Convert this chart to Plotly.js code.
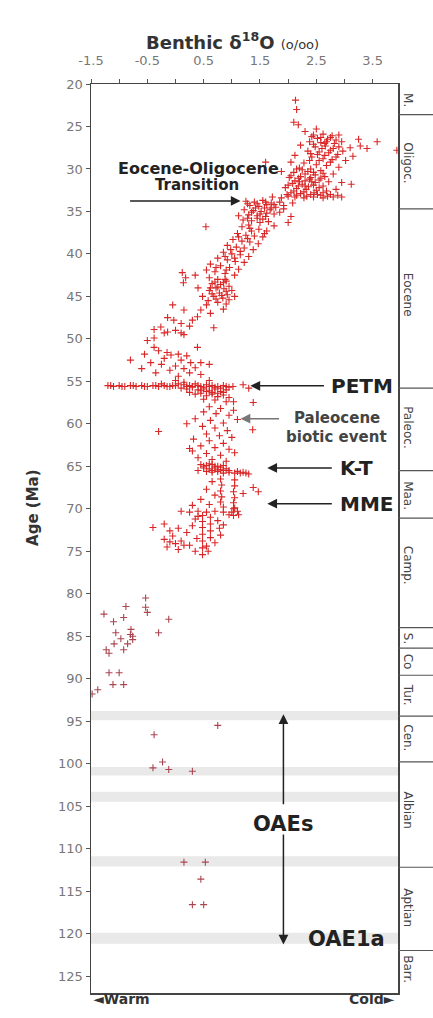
<!DOCTYPE html>
<html><head><meta charset="utf-8">
<script src="https://cdn.plot.ly/plotly-3.0.1.min.js"></script>
<style>html,body{margin:0;padding:0;background:#fff;} #chart{width:433px;height:1018px;}</style>
</head><body><div id="chart"></div>
<script>
// [benthic d18O (per mil), age (Ma)]
const oligocene = [[2.13,21.9],[2.15,23.0],[2.10,24.5],[2.18,24.8],[2.30,25.6],[2.50,25.3],
[2.45,26.0],[2.62,25.9],[2.78,26.1],[2.90,26.0],[2.52,26.4],[2.70,26.5],[2.85,26.6],[2.38,26.8],[2.58,26.9],[2.95,26.8],[3.58,26.8],[3.28,27.3],[3.10,27.5],[3.25,26.5],
[2.22,27.2],[2.48,27.4],[2.66,27.3],[2.80,27.6],[2.97,27.9],[3.40,27.6],[3.93,27.8],[2.35,27.9],[2.55,28.0],[2.72,28.1],[2.88,28.3],[3.15,28.5],[2.12,28.4],[2.42,28.6],[2.62,28.8],[2.78,28.9],[3.02,29.0],
[2.05,29.2],[2.28,29.3],[2.50,29.5],[2.68,29.6],[2.90,29.8],[2.20,29.9],[2.40,30.0],[2.58,30.2],[1.88,30.3],[2.10,30.4],[2.30,30.6],[2.48,30.7],[2.65,30.9],[2.80,30.6],
[2.02,31.0],[2.18,31.1],[2.38,31.2],[2.55,31.3],[2.72,31.5],[2.95,31.6],[3.12,31.8],[2.08,31.7],[2.25,31.8],[2.45,31.9],[2.62,32.0],[1.95,32.2],[2.15,32.3],[2.32,32.4],[2.50,32.5],[2.68,32.6],[2.85,32.4],
[2.05,32.8],[2.22,32.9],[2.40,33.0],[2.58,33.1],[2.75,33.0],[1.72,33.3],[1.88,33.4],[2.00,33.2],[2.12,33.3],[2.28,33.4],[2.45,33.3],[2.62,33.4],[2.80,33.3],[2.95,33.3],
[2.20,31.5],[2.35,30.3],[2.52,28.3],[2.65,27.0],[2.75,29.2],[2.30,32.0],[2.42,31.5],[2.15,30.0],[1.60,29.2],
[2.05,30.8],[2.22,30.9],[2.40,31.0],[2.58,31.1],[2.12,31.4],[2.30,31.4],[2.48,31.6],[2.00,31.9],[2.18,32.0],[2.36,32.1],[2.55,32.2],[2.10,32.6],[2.28,32.7],[2.46,32.8],[2.62,32.8],
[1.98,33.0],[2.15,33.1],[2.33,33.2],[2.52,33.0],[2.70,33.2],[2.88,33.1],[2.25,30.1],[2.45,30.4],[2.62,30.5],
[2.42,26.2],[2.58,26.3],[2.75,26.3],[2.68,26.8],[2.82,27.0],[2.45,27.1],[2.60,27.6],[2.75,27.8],[2.90,27.4],[2.40,28.2],[2.65,28.4],[2.85,28.6],[2.55,29.0],[2.38,29.0]];

const eocene = [[1.25,33.8],[1.40,33.9],[1.55,33.7],[1.70,34.0],[1.85,33.9],[1.32,34.3],[1.48,34.4],[1.62,34.2],[1.78,34.5],[1.92,34.3],[1.22,34.8],[1.38,34.9],[1.52,35.0],[1.68,34.8],[1.85,35.1],
[1.30,35.4],[1.45,35.5],[1.60,35.6],[1.75,35.3],[2.05,35.6],[1.20,36.0],[1.35,36.1],[1.50,36.3],[1.65,36.2],[2.00,36.3],[0.54,36.8],[1.18,36.8],[1.32,37.0],[1.48,37.1],[1.62,37.3],
[1.10,37.6],[1.25,37.8],[1.40,37.9],[1.55,38.0],[1.02,38.3],[1.18,38.5],[1.32,38.6],[1.47,38.8],[0.92,39.0],[1.08,39.2],[1.22,39.3],[1.38,39.5],[0.85,39.8],[1.00,40.0],[1.15,40.1],[1.30,40.3],
[0.75,40.5],[0.92,40.7],[1.06,40.9],[1.22,41.0],[0.62,41.2],[0.80,41.4],[0.96,41.6],[1.12,41.8],[0.55,41.9],[0.70,42.1],[0.88,42.3],[1.05,42.5],[0.12,42.2],[0.18,42.8],[0.14,43.4],
[0.60,42.8],[0.75,43.0],[0.90,43.2],[0.65,43.5],[0.80,43.6],[0.95,43.8],[0.72,44.0],[0.86,44.1],[1.00,44.3],[0.60,44.3],[0.78,44.6],[0.92,44.8],[0.68,45.0],[0.84,45.2],[1.05,45.0],
[0.58,45.5],[0.75,45.7],[0.90,45.9],[0.48,45.0],[0.40,44.0],[0.35,42.5],[-0.05,46.0],[0.15,46.6],[0.45,46.6],[0.62,47.0],[0.68,48.7],[0.39,47.4],[-0.03,47.8],[-0.14,47.5],[0.30,47.8],
[0.10,48.2],[-0.26,48.6],[-0.38,48.9],[-0.38,49.9],[0.15,49.5],[-0.20,49.3],[0.00,49.0],[-0.50,50.2],[0.25,48.5],[0.55,46.0],[0.85,46.5],[1.30,36.6],[1.75,36.7],[1.45,35.8],
[1.28,34.1],[1.45,34.1],[1.60,33.9],[1.75,34.2],[1.58,34.6],[1.42,34.6],[1.70,34.6],[1.35,35.1],[1.62,35.2],[1.50,35.3],[1.92,34.7],[2.08,34.0],[1.12,35.5],[1.28,35.8],[1.55,35.9],
[0.70,43.3],[0.85,43.4],[0.75,43.9],[0.90,44.4],[0.65,44.7],[0.82,44.9],[0.72,45.3],[0.95,45.4],[0.88,43.0],[0.62,44.0],
[1.12,38.0],[1.28,38.2],[0.98,39.5],[1.15,39.7],[0.88,40.3],[1.05,40.5],[0.72,41.6],[0.90,41.9],[1.35,37.3],[1.58,37.6]];

const earlyEocenePetm = [[-0.14,49.2],[0.10,49.3],[-0.38,51.0],[-0.08,51.9],[0.10,52.5],[0.27,52.8],[0.45,52.8],[-0.80,52.5],[-0.44,52.8],[-0.25,53.0],[0.00,53.2],[0.39,51.0],[-0.30,51.4],
[-0.15,51.6],[0.05,51.8],[0.20,52.0],[-0.20,52.3],[0.35,53.4],[0.15,53.5],[-0.10,53.7],[0.25,54.0],[0.45,54.2],[-0.35,54.0],[0.05,54.4],[0.60,53.0],[-0.55,51.8],[-0.60,53.5],
[-1.20,55.5],[-1.10,55.6],[-1.00,55.5],[-0.90,55.6],[-0.80,55.5],[-0.70,55.6],[-0.60,55.5],[-0.50,55.6],[-0.40,55.5],[-0.30,55.6],[-0.20,55.5],[-0.10,55.6],[0.00,55.5],
[0.05,55.3],[0.15,55.4],[0.25,55.5],[0.35,55.3],[0.45,55.6],[0.55,55.4],[0.65,55.5],[0.75,55.6],[0.85,55.5],[0.95,55.7],[1.02,55.6],[0.10,55.8],[0.20,55.9],[0.30,55.7],[0.40,56.0],
[0.50,55.9],[0.60,56.1],[0.70,55.9],[0.80,56.2],[0.90,56.0],[0.25,56.3],[0.35,56.5],[0.45,56.4],[0.55,56.7],[0.65,56.5],[0.75,56.8],[0.85,56.6],[0.95,56.9],[0.50,57.1],[0.70,57.2],
[0.90,57.4],[1.03,57.4],[1.38,57.5],[1.03,58.4],[1.20,55.4],[1.30,55.8],[0.15,55.1],[0.00,54.9],[-0.25,55.3],[0.60,54.9],
[0.30,55.6],[0.40,55.5],[0.50,55.7],[0.60,55.6],[0.70,55.7],[0.80,55.8],[0.90,55.6],[0.20,55.6],[0.55,56.2],[0.65,56.3],[0.75,56.4],[0.45,56.1],[0.85,56.3],[-0.05,55.5],[-0.15,55.6],
[-0.35,55.5],[-0.55,55.6],[-0.75,55.5],[-0.95,55.6],[-1.15,55.5]];

const paleocene = [[0.60,58.0],[0.80,58.2],[0.50,58.6],[0.72,58.8],[0.95,59.0],[0.35,59.4],[0.62,59.6],[0.85,59.9],[1.10,59.5],[-0.30,60.9],[1.37,60.7],[0.48,60.3],[0.70,60.5],[0.92,60.8],
[0.55,61.2],[0.78,61.4],[1.00,61.6],[0.32,61.8],[0.60,62.0],[0.85,62.3],[0.45,62.6],[0.70,62.8],[0.95,63.0],[0.30,63.2],[0.55,63.5],[0.80,63.7],[1.05,63.4],[0.40,64.0],[0.65,64.2],
[0.90,64.4],[0.25,62.9],[0.20,60.0]];

const maastrichtian = [[0.45,64.8],[0.55,64.9],[0.65,64.8],[0.75,65.0],[0.85,64.9],[0.50,65.2],[0.60,65.3],[0.70,65.2],[0.80,65.4],[0.90,65.3],[0.55,65.6],[0.65,65.7],[0.75,65.6],[0.85,65.8],
[0.95,65.7],[1.05,65.8],[1.15,65.8],[1.25,65.8],[1.30,65.9],[0.40,65.5],[0.60,64.7],[0.70,65.0],[0.80,65.1],[0.65,65.5],[0.75,65.4],[0.85,65.5],[0.95,65.5],[0.50,65.0],[1.10,65.6],[1.20,65.7],
[0.80,66.5],[1.05,66.6],[0.65,66.8],[0.82,67.2],[1.05,67.3],[1.38,67.5],[1.47,68.0],[0.55,67.7],[0.80,67.9],[1.03,68.0],[0.70,68.4],[0.82,68.6],[1.05,68.7],[1.20,68.2],[0.45,68.9],
[0.80,69.2],[1.03,69.3],[0.60,69.5],[0.85,69.8],[1.05,69.9],[0.30,69.6],
[0.10,70.3],[0.25,70.4],[0.40,70.3],[0.55,70.4],[0.70,70.3],[0.85,70.4],[1.00,70.4],[1.10,70.3],[1.03,70.0],[1.03,70.8],[0.95,70.7],[1.12,70.7]];

const campanian = [[0.48,70.8],[0.48,71.5],[0.48,72.2],[0.48,73.0],[0.48,73.8],[0.48,74.6],[0.48,75.4],[0.62,71.0],[0.62,71.8],[0.62,72.6],[0.62,73.4],[0.70,74.0],[0.75,71.4],[0.78,72.3],
[0.80,73.1],[0.35,71.2],[0.30,72.0],[0.20,72.8],[0.38,73.5],[0.25,74.3],[0.35,75.0],[0.55,74.4],[0.58,75.0],[-0.40,72.2],[-0.20,71.8],[-0.10,72.6],[0.05,72.3],[-0.20,73.6],[-0.10,73.9],
[0.00,74.1],[0.10,73.8],[-0.15,74.5],[0.05,74.8],[-0.05,73.2],[0.15,74.3],[0.85,71.9],[0.40,70.9]];

const lateCretaceous = [[-1.27,82.4],[-0.88,81.5],[-0.92,82.8],[-0.53,81.6],[-0.53,80.5],[-0.50,82.2],[-0.12,83.0],[-1.10,83.3],[-0.79,84.2],[-1.06,84.6],[-0.97,85.3],[-0.76,85.4],
[-0.30,84.6],[-1.09,85.9],[-0.92,86.6],[-1.23,86.6],[-1.18,87.0],[-1.18,89.3],[-1.00,89.3],[-1.11,90.7],[-0.92,90.7],[-1.38,91.3],[-1.48,91.8],[-0.76,85.0],[-0.85,85.9],[-0.80,84.8]];

const midCretaceous = [[0.75,95.5],[-0.38,96.6],[-0.23,99.8],[-0.40,100.5],[-0.12,100.7],[0.30,100.9],[0.15,111.6],[0.53,111.6],[0.45,113.6],[0.30,116.6],[0.50,116.6]];

// stages column
const stageNames = ['M.','Oligoc.','Eocene','Paleoc.','Maa.','Camp.','S.','Co','Tur.','Cen.','Albian','Aptian','Barr.'];
const stageMidAges = [21.9,29.2,44.8,60.4,68.4,76.6,85.2,88.0,91.9,96.9,105.4,116.9,124.2];
const stageBoundaries = [23.6,34.7,55.8,65.5,71.1,84.0,86.4,89.6,94.4,99.8,112.2,122.0];

// OAE grey bands [top, bottom] (Ma)
const oaeBandTop = [93.8,100.4,103.3,110.9,119.9];
const oaeBandBottom = [94.9,101.4,104.5,112.1,121.2];

// ticks
const xTickVals = [-1.5,-1,-0.5,0,0.5,1,1.5,2,2.5,3,3.5];
const xTickText = ['-1.5','','-0.5','','0.5','','1.5','','2.5','','3.5'];
const yTickVals = [20,25,30,35,40,45,50,55,60,65,70,75,80,85,90,95,100,105,110,115,120,125];

const FONT = 'DejaVu Sans, Arial, sans-serif';
const cenozoic = [].concat(oligocene, eocene, earlyEocenePetm, paleocene, maastrichtian, campanian);
const cretaceous = [].concat(lateCretaceous, midCretaceous);

const traces = [
  {type:'scatter', mode:'markers', x: cenozoic.map(p=>p[0]), y: cenozoic.map(p=>p[1]),
   marker:{symbol:'cross-thin', size:5, line:{width:1.1, color:'rgb(218,38,38)'}, color:'rgb(218,38,38)'}, hoverinfo:'skip'},
  {type:'scatter', mode:'markers', x: cretaceous.map(p=>p[0]), y: cretaceous.map(p=>p[1]),
   marker:{symbol:'cross-thin', size:5, line:{width:1.1, color:'rgb(170,70,80)'}, color:'rgb(170,70,80)'}, hoverinfo:'skip'}
];

const shapes = [];
oaeBandTop.forEach((t,i)=>shapes.push({type:'rect', xref:'paper', yref:'y', x0:0, x1:1, y0:t, y1:oaeBandBottom[i], fillcolor:'#e9e9e9', line:{width:0}, layer:'below'}));
stageBoundaries.forEach(b=>shapes.push({type:'line', xref:'paper', yref:'y', x0:1, x1:1.15, y0:b, y1:b, line:{color:'#555', width:1.2}}));

const annotations = [];
stageNames.forEach((s,i)=>annotations.push({xref:'paper', yref:'y', x:1.062, y:stageMidAges[i], text:s, showarrow:false, textangle:90, font:{family:FONT, size:12, color:'#444'}}));

function arrow(x, y, ax, ay, color){
  return {xref:'x', yref:'y', x:x, y:y, ax:ax, ay:ay, text:' ', showarrow:true, arrowhead:2, arrowsize:1.3, arrowwidth:1.5, arrowcolor:color||'#222', standoff:0, startstandoff:0, font:{size:1}};
}
annotations.push(arrow(1.155, 33.76, -112, 0));
annotations.push(arrow(1.33, 55.53, 75, 0));
annotations.push(arrow(1.155, 59.4, 40, 0, '#777'));
annotations.push(arrow(1.63, 65.2, 66, 0));
annotations.push(arrow(1.63, 69.4, 66, 0));
annotations.push(arrow(1.916, 94.2, 0, 92));
annotations.push(arrow(1.916, 121.3, 0, -112));

function label(x, y, text, size, opts){
  return Object.assign({xref:'x', yref:'y', x:x, y:y, text:text, showarrow:false, font:{family:FONT, size:size, color:'#222', weight:'bold'}}, opts||{});
}
annotations.push(label(0.41, 30.0, 'Eocene-Oligocene', 16));
annotations.push(label(0.39, 31.9, 'Transition', 15));
annotations.push(label(3.9, 55.5, 'PETM', 20, {xanchor:'right'}));
annotations.push(label(2.87, 59.3, 'Paleocene', 15, {font:{family:FONT, size:15, color:'#444', weight:'bold'}}));
annotations.push(label(2.86, 61.5, 'biotic event', 15, {font:{family:FONT, size:15, color:'#444', weight:'bold'}}));
annotations.push(label(2.89, 65.2, 'K-T', 20, {xanchor:'left'}));
annotations.push(label(2.89, 69.4, 'MME', 20, {xanchor:'left'}));
annotations.push(label(1.916, 107.1, 'OAEs', 21));
annotations.push(label(3.04, 120.6, 'OAE1a', 21));

annotations.push({xref:'paper', yref:'paper', x:0.4625, y:1.0627, text:'Benthic δ<sup>18</sup>O <span style="font-size:13px;font-weight:normal">(o/oo)</span>', showarrow:false, font:{family:FONT, size:18, color:'#333', weight:'bold'}});
annotations.push({xref:'paper', yref:'paper', x:-0.2248, y:0.5347, text:'Age (Ma)', textangle:-90, showarrow:false, font:{family:FONT, size:15, color:'#333', weight:'bold'}});
annotations.push({xref:'paper', yref:'paper', x:0, y:-0.0176, xanchor:'left', text:'◄Warm', showarrow:false, font:{family:FONT, size:14, color:'#333', weight:'bold'}});
annotations.push({xref:'paper', yref:'paper', x:0.9967, y:-0.0176, xanchor:'right', text:'Cold►', showarrow:false, font:{family:FONT, size:14, color:'#333', weight:'bold'}});

const layout = {
  width:433, height:1018, margin:{l:91, r:35, t:84, b:25},
  paper_bgcolor:'#fff', plot_bgcolor:'#fff', showlegend:false,
  xaxis:{side:'top', range:[-1.5,3.95], tickmode:'array', tickvals:xTickVals, ticktext:xTickText,
         ticks:'outside', ticklen:4, tickcolor:'#555', showgrid:false, zeroline:false,
         showline:true, mirror:true, linecolor:'#444', linewidth:1.5, ticklabelstandoff:8,
         tickfont:{family:FONT, size:13, color:'#777'}},
  yaxis:{range:[127,20], tickmode:'array', tickvals:yTickVals, ticks:'outside', ticklen:4, tickcolor:'#555',
         showgrid:false, zeroline:false, showline:true, mirror:true, linecolor:'#444', linewidth:1.5,
         tickfont:{family:FONT, size:13, color:'#777'}},
  shapes:shapes, annotations:annotations
};
Plotly.newPlot('chart', traces, layout, {staticPlot:true, displayModeBar:false});
</script></body></html>
